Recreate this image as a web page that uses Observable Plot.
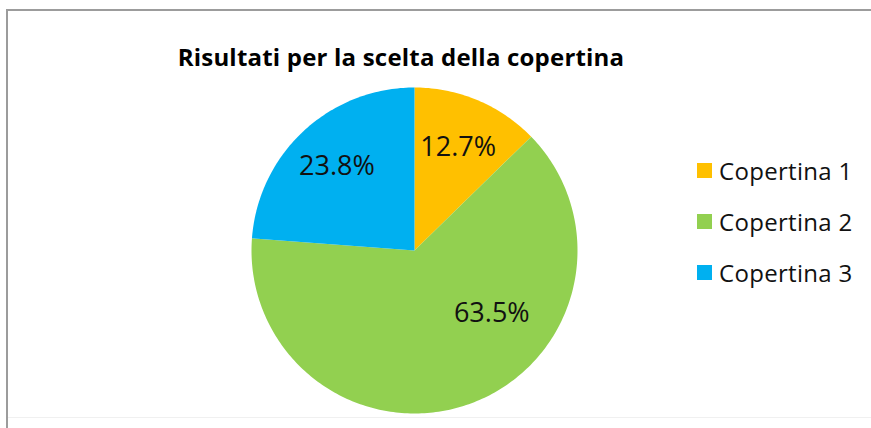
<!DOCTYPE html>
<html>
<head>
<meta charset="utf-8">
<script src="https://cdn.jsdelivr.net/npm/d3@7"></script>
<script src="https://cdn.jsdelivr.net/npm/@observablehq/plot@0.6"></script>
<style>
  html, body { margin: 0; padding: 0; background: #fff; overflow: hidden; }
  #wrap { position: relative; width: 871px; height: 428px; overflow: hidden; font-family: "Open Sans", Lato, sans-serif; }
  #topline { position: absolute; left: 6px; top: 9px; width: 865px; height: 2px; background: #9c9c9c; }
  #leftline { position: absolute; left: 6px; top: 9px; width: 2px; height: 420px; background: #9c9c9c; }
  #botline { position: absolute; left: 8px; top: 417px; width: 863px; height: 1px; background: #f0f0f0; }
  #title { position: absolute; left: 0; width: 802px; top: 42px; text-align: center; font-weight: bold; font-size: 24px; line-height: 30px; color: #000; white-space: nowrap; letter-spacing: 0.2px; }
  #chart { position: absolute; left: 0; top: 0; }
  #legend { position: absolute; left: 697px; top: 145px; }
  .item { display: flex; align-items: center; height: 51px; font-size: 24px; letter-spacing: 0.3px; color: #111; }
  .sw { width: 15px; height: 15px; margin-right: 7px; }
</style>
</head>
<body>
<div id="wrap">
  <div id="topline"></div>
  <div id="leftline"></div>
  <div id="botline"></div>
  <div id="title"></div>
  <div id="chart"></div>
  <div id="legend"></div>
</div>
<script>
const title = "Risultati per la scelta della copertina";
const categories = ["Copertina 1", "Copertina 2", "Copertina 3"];
const values = [12.7, 63.5, 23.8];
const colors = ["#FFC000", "#92D050", "#00B0F0"];
const labels = ["12.7%", "63.5%", "23.8%"];

// layout: label placement inside slices (fraction of radius, optional angle override in degrees)
const labelLayout = {
  "Copertina 1": {r: 0.69},
  "Copertina 2": {r: 0.61, angle: 129},
  "Copertina 3": {r: 0.70}
};

document.getElementById("title").textContent = title;

const arcs = d3.pie().sort(null).value(d => d.value)(
  categories.map((name, i) => ({name, value: values[i], label: labels[i]}))
);

const slicePts = [];
for (const a of arcs) {
  const n = Math.max(2, Math.ceil((a.endAngle - a.startAngle) / (Math.PI * 2) * 360));
  slicePts.push({name: a.data.name, x: 0, y: 0});
  for (let k = 0; k <= n; k++) {
    const t = a.startAngle + (a.endAngle - a.startAngle) * k / n;
    slicePts.push({name: a.data.name, x: Math.sin(t), y: Math.cos(t)});
  }
  slicePts.push({name: a.data.name, x: 0, y: 0});
}

const labelPts = arcs.map(a => {
  const L = labelLayout[a.data.name] || {r: 0.68};
  const ang = L.angle != null ? L.angle * Math.PI / 180 : (a.startAngle + a.endAngle) / 2;
  return {name: a.data.name, label: a.data.label, x: L.r * Math.sin(ang), y: L.r * Math.cos(ang)};
});

const cx = 414, cy = 250, R = 163;
const W = 871, H = 428;

const plot = Plot.plot({
  width: W,
  height: H,
  marginLeft: cx - R,
  marginRight: W - (cx + R),
  marginTop: cy - R,
  marginBottom: H - (cy + R),
  x: {domain: [-1, 1], axis: null},
  y: {domain: [-1, 1], axis: null},
  color: {domain: categories, range: colors},
  style: {background: "transparent", overflow: "visible"},
  marks: [
    Plot.line(slicePts, {x: "x", y: "y", z: "name", fill: "name", stroke: "none", curve: "linear"}),
    Plot.text(labelPts, {x: "x", y: "y", text: "label", fontSize: 27, fill: "#111",
      fontFamily: "'Open Sans', Lato, sans-serif"})
  ]
});
document.getElementById("chart").appendChild(plot);

const legend = document.getElementById("legend");
categories.forEach((c, i) => {
  const it = document.createElement("div");
  it.className = "item";
  const sw = document.createElement("div");
  sw.className = "sw";
  sw.style.background = colors[i];
  const tx = document.createElement("span");
  tx.textContent = c;
  it.appendChild(sw);
  it.appendChild(tx);
  legend.appendChild(it);
});
</script>
</body>
</html>
